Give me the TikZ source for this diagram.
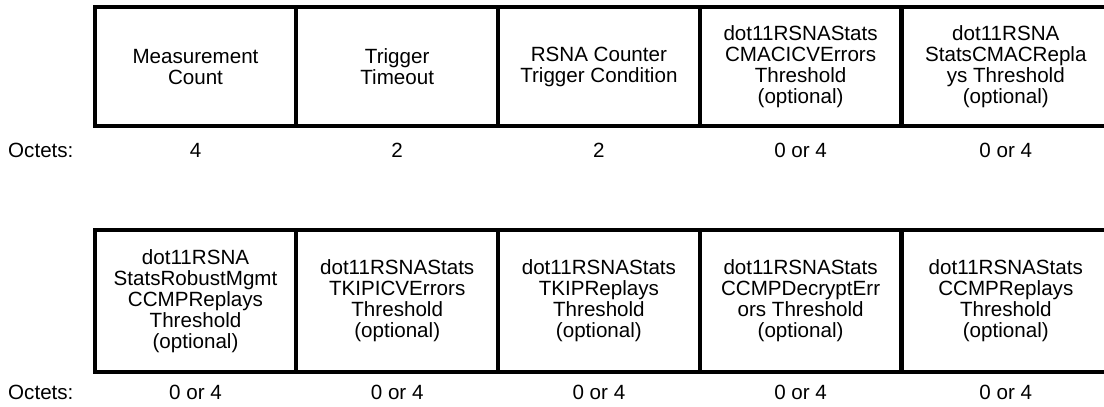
\documentclass[tikz,border=0pt]{standalone}
\usepackage{fontspec}
\setmainfont{Liberation Sans}
\begin{document}
\begin{tikzpicture}[x=1pt,y=-1pt,
  field/.style={draw, line width=4pt, minimum width=201.7pt, inner sep=0pt, align=center,
    font=\fontsize{20.6}{21}\selectfont},
  lastfield/.style={minimum width=208.3pt},
  toprow/.style={field, minimum height=119.3pt},
  botrow/.style={field, minimum height=142pt},
  lbl/.style={inner sep=0pt, anchor=base, font=\fontsize{20.6}{21}\selectfont}
]
\useasboundingbox (0,0) rectangle (1104,407);
% top row
\node[toprow] (a1) at (195.5,66.7) {Measurement\\Count};
\node[toprow] (a2) at (397.2,66.7) {Trigger\\Timeout};
\node[toprow] (a3) at (598.9,66.7) {RSNA Counter\\Trigger Condition};
\node[toprow] (a4) at (800.6,66.7) {dot11RSNAStats\\CMACICVErrors\\Threshold\\(optional)};
\node[toprow, lastfield] (a5) at (1005.8,66.7) {dot11RSNA\\StatsCMACRepla\\ys Threshold\\(optional)};
% bottom row
\node[botrow] (b1) at (195.5,301) {dot11RSNA\\StatsRobustMgmt\\CCMPReplays\\Threshold\\(optional)};
\node[botrow] (b2) at (397.2,301) {dot11RSNAStats\\TKIPICVErrors\\Threshold\\(optional)};
\node[botrow] (b3) at (598.9,301) {dot11RSNAStats\\TKIPReplays\\Threshold\\(optional)};
\node[botrow] (b4) at (800.6,301) {dot11RSNAStats\\CCMPDecryptErr\\ors Threshold\\(optional)};
\node[botrow, lastfield] (b5) at (1005.8,301) {dot11RSNAStats\\CCMPReplays\\Threshold\\(optional)};
% octet labels, top row
\node[lbl, anchor=base west] (oa) at (8,157) {Octets:};
\node[lbl] (na1) at (195.5,157) {4};
\node[lbl] (na2) at (397.2,157) {2};
\node[lbl] (na3) at (598.9,157) {2};
\node[lbl] (na4) at (800.6,157) {0 or 4};
\node[lbl] (na5) at (1005.8,157) {0 or 4};
% octet labels, bottom row
\node[lbl, anchor=base west] (ob) at (8,399) {Octets:};
\node[lbl] (nb1) at (195.5,399) {0 or 4};
\node[lbl] (nb2) at (397.2,399) {0 or 4};
\node[lbl] (nb3) at (598.9,399) {0 or 4};
\node[lbl] (nb4) at (800.6,399) {0 or 4};
\node[lbl] (nb5) at (1005.8,399) {0 or 4};
\end{tikzpicture}
\end{document}
